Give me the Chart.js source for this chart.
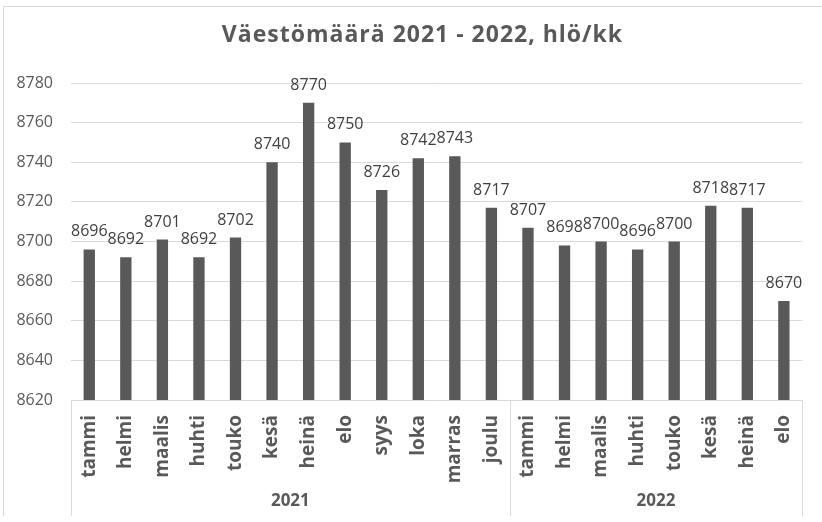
<!DOCTYPE html>
<html>
<head>
<meta charset="utf-8">
<script src="https://cdn.jsdelivr.net/npm/chart.js@4"></script>
<style>
  html, body { margin: 0; padding: 0; background: #fff; }
  #wrap { width: 822px; height: 522px; position: relative; }
</style>
</head>
<body>
<div id="wrap"><canvas id="chart" width="822" height="522"></canvas></div>
<script>
// kuukaudet ja väestömäärät
const months2021 = ['tammi', 'helmi', 'maalis', 'huhti', 'touko', 'kesä', 'heinä', 'elo', 'syys', 'loka', 'marras', 'joulu'];
const months2022 = ['tammi', 'helmi', 'maalis', 'huhti', 'touko', 'kesä', 'heinä', 'elo'];
const values2021 = [8696, 8692, 8701, 8692, 8702, 8740, 8770, 8750, 8726, 8742, 8743, 8717];
const values2022 = [8707, 8698, 8700, 8696, 8700, 8718, 8717, 8670];
const years = ['2021', '2022'];
const yTicksMin = 8620;
const yTicksMax = 8780;
const yTicksStep = 20;
const titleText = 'Väestömäärä 2021 - 2022, hlö/kk';

const labels = months2021.concat(months2022);
const values = values2021.concat(values2022);
const groups = [
    { year: years[0], count: months2021.length },
    { year: years[1], count: months2022.length }
];

const FONT = '"Open Sans", "Noto Sans", sans-serif';
const lineColor = '#d9d9d9';
const textColor = '#595959';

// kehys, otsikko, akselin viivat ja vuosiryhmät
const axisGroups = {
    id: 'axisGroups',
    beforeDraw(chart) {
        const ctx = chart.ctx;
        ctx.save();
        ctx.strokeStyle = lineColor;
        ctx.lineWidth = 1;
        ctx.beginPath();
        ctx.moveTo(3.5, chart.height - 6);
        ctx.lineTo(3.5, 6.5);
        ctx.lineTo(chart.width, 6.5);
        ctx.stroke();

        // otsikko koko kuvan keskelle
        ctx.font = 'bold 23px ' + FONT;
        ctx.letterSpacing = '1px';
        ctx.fillStyle = textColor;
        ctx.textAlign = 'center';
        ctx.textBaseline = 'alphabetic';
        ctx.fillText(titleText, (3 + chart.width) / 2 + 10, 42);
        ctx.restore();
    },
    afterDraw(chart) {
        const ctx = chart.ctx;
        const x = chart.scales.x;
        const area = chart.chartArea;
        const half = (x.getPixelForValue(1) - x.getPixelForValue(0)) / 2;
        const bottom = x.bottom;
        ctx.save();
        ctx.strokeStyle = lineColor;
        ctx.lineWidth = 1;
        ctx.beginPath();
        ctx.moveTo(area.left, Math.round(area.bottom) + 0.5);
        ctx.lineTo(area.right, Math.round(area.bottom) + 0.5);
        ctx.stroke();

        let start = 0;
        const edges = [x.getPixelForValue(0) - half];
        ctx.font = 'bold 17px ' + FONT;
        ctx.fillStyle = textColor;
        ctx.textAlign = 'center';
        ctx.textBaseline = 'middle';
        groups.forEach(g => {
            const left = x.getPixelForValue(start) - half;
            const right = x.getPixelForValue(start + g.count - 1) + half;
            edges.push(right);
            ctx.fillText(g.year, (left + right) / 2, bottom - 15);
            start += g.count;
        });
        ctx.beginPath();
        edges.forEach(e => {
            const px = Math.round(e) + 0.5;
            ctx.moveTo(px, area.bottom);
            ctx.lineTo(px, bottom);
        });
        ctx.stroke();
        ctx.restore();
    }
};

// arvot pylväiden yläpuolelle
const barValues = {
    id: 'barValues',
    afterDatasetsDraw(chart) {
        const ctx = chart.ctx;
        const meta = chart.getDatasetMeta(0);
        ctx.save();
        ctx.font = '16px ' + FONT;
        ctx.fillStyle = '#404040';
        ctx.textAlign = 'center';
        ctx.textBaseline = 'alphabetic';
        meta.data.forEach((bar, i) => {
            ctx.fillText(String(values[i]), bar.x, bar.y - 13);
        });
        ctx.restore();
    }
};

new Chart(document.getElementById('chart'), {
    type: 'bar',
    data: {
        labels: labels,
        datasets: [{
            data: values,
            backgroundColor: '#595959',
            barPercentage: 0.31,
            categoryPercentage: 1
        }]
    },
    options: {
        responsive: false,
        animation: false,
        layout: { padding: { left: 0, right: 13, top: 83, bottom: 6 } },
        plugins: {
            legend: { display: false },
            tooltip: { enabled: false },
            title: { display: false }
        },
        scales: {
            x: {
                grid: { display: false, drawTicks: false },
                border: { display: false },
                ticks: {
                    color: textColor,
                    font: { family: FONT, size: 19, weight: 'bold' },
                    minRotation: 90,
                    maxRotation: 90,
                    padding: 15,
                    autoSkip: false
                },
                afterFit(scale) { scale.height = 116; }
            },
            y: {
                min: yTicksMin,
                max: yTicksMax,
                grid: { color: lineColor, drawTicks: false },
                border: { display: false },
                ticks: {
                    stepSize: yTicksStep,
                    color: textColor,
                    font: { family: FONT, size: 16 },
                    padding: 18,
                    callback: v => String(v)
                },
                afterFit(scale) { scale.width = 71; }
            }
        }
    },
    plugins: [axisGroups, barValues]
});
</script>
</body>
</html>
